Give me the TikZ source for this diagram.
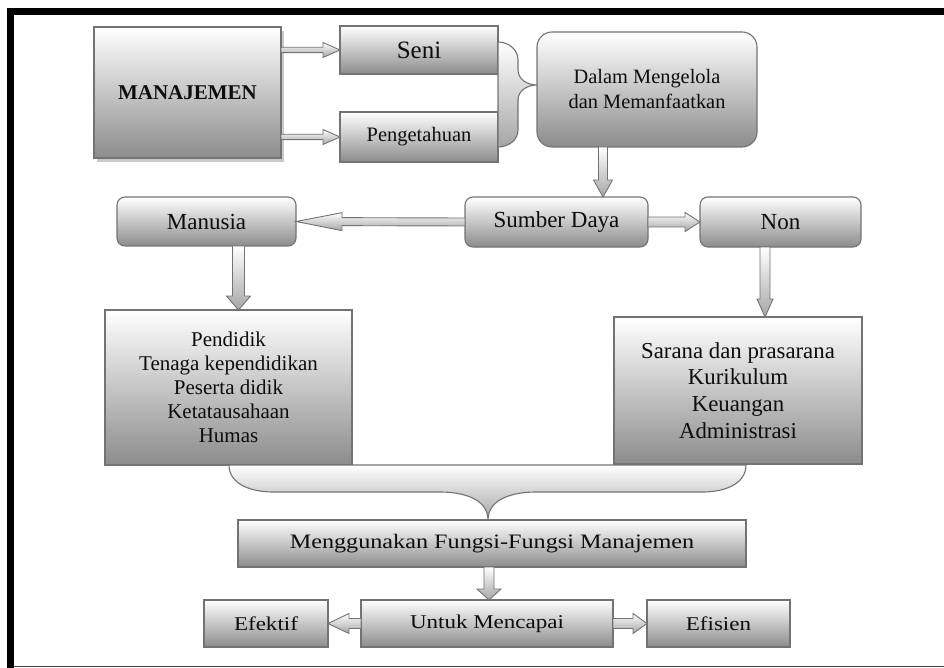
\documentclass[tikz,border=0pt]{standalone}
\usepackage{fontspec}
\setmainfont{Liberation Serif}
\newfontfamily\camb[FakeStretch=1.18]{Liberation Serif}
\usetikzlibrary{calc,shadows}
\newcommand\fsz[2]{\fontsize{#1}{#2}\selectfont}
% block arrow: start, end, shaft half width, head half width, head length
\newcommand\blockarr[5]{%
  \draw[arrowsty] let \p1=#1, \p2=#2, \n1={veclen(\x2-\x1,\y2-\y1)}, \n2={atan2(\y2-\y1,\x2-\x1)} in
    {[shift={(\p1)}, rotate=\n2]
     (0,#3) -- ({\n1-#5},#3) -- ({\n1-#5},#4) -- (\n1,0) -- ({\n1-#5},-#4) -- ({\n1-#5},-#3) -- (0,-#3) -- cycle};
}
\begin{document}
\begin{tikzpicture}[x=1pt,y=-1pt,
  box/.style={draw=black!55, line width=1.1pt, top color=white, bottom color=black!45,
    inner sep=0pt, outer sep=0pt, text=black!95, align=center},
  rbox/.style={box, rounded corners=8pt},
  arrowsty/.style={draw=black!55, line width=0.9pt, top color=white, bottom color=black!35},
  bracesty/.style={draw=black!55, line width=1.1pt, top color=white, bottom color=black!35}]
\useasboundingbox (0,0) rectangle (944,668);
% frame
\fill[black] (7,8) rectangle (14,668);
\fill[black] (7,8) rectangle (944,15.5);
\draw[black!75, line width=1.3pt] (14,666.5) -- (944,666.5);

% nodes
\node[box, minimum width=187pt, minimum height=131pt, font=\fsz{21}{24}\bfseries,
  drop shadow={shadow xshift=3pt, shadow yshift=-4pt, fill=black!35, opacity=0.6}]
  (man) at (187.5,92.5) {\raisebox{-7pt}{MANAJEMEN}};
\node[box, minimum width=158pt, minimum height=48pt, font=\fsz{25}{28}] (seni) at (419,50) {\raisebox{-2pt}{Seni}};
\node[box, minimum width=158pt, minimum height=50pt, font=\fsz{20.5}{24}] (peng) at (419,137) {Pengetahuan};
\node[box, rounded corners=15pt, minimum width=220pt, minimum height=115pt, font=\fsz{20.4}{25}]
  (dalam) at (647,89.5) {Dalam Mengelola\\dan Memanfaatkan};
\node[rbox, minimum width=183pt, minimum height=50pt, font=\fsz{23}{26}] (sd) at (556.5,222) {Sumber Daya};
\node[rbox, minimum width=161pt, minimum height=50pt, font=\fsz{23}{26}] (non) at (780.5,222) {Non};
\node[rbox, minimum width=179pt, minimum height=49pt, font=\fsz{23}{26}] (manu) at (206.5,221.5) {Manusia};
\node[box, minimum width=247pt, minimum height=155pt, font=\fsz{21}{24}] (left) at (228.5,387.5)
  {Pendidik\\Tenaga kependidikan\\Peserta didik\\Ketatausahaan\\Humas};
\node[box, minimum width=248pt, minimum height=147pt, font=\fsz{22.8}{26.7}] (right) at (738,390.5)
  {Sarana dan prasarana\\Kurikulum\\Keuangan\\Administrasi};
\node[box, minimum width=508pt, minimum height=47pt, font=\camb\fsz{20.5}{24}] (meng) at (492,543.5)
  {Menggunakan Fungsi-Fungsi Manajemen};
\node[box, minimum width=252pt, minimum height=47pt, font=\camb\fsz{19.5}{23}] (untuk) at (487,623.5)
  {Untuk Mencapai};
\node[box, minimum width=124pt, minimum height=47pt, font=\camb\fsz{19.5}{23}] (efek) at (266,623.5)
  {Efektif};
\node[box, minimum width=143pt, minimum height=47pt, font=\camb\fsz{19.5}{23}] (efis) at (718.5,623.5)
  {Efisien};

% arrows
\blockarr{(man.east|-seni.west)}{(seni.west)}{2.7}{7.5}{17}
\blockarr{(man.east|-peng.west)}{(peng.west)}{2.7}{7.5}{17}
\blockarr{([xshift=-44pt]dalam.south)}{([xshift=-44pt]dalam.south|-sd.north)}{4.5}{9.5}{17}
\blockarr{(sd.west)}{(manu.east)}{4}{9}{46}
\blockarr{(sd.east)}{(non.west)}{5}{9.5}{15}
\blockarr{([xshift=32pt]manu.south)}{([xshift=32pt]manu.south|-left.north)}{6}{12}{14}
\blockarr{([xshift=-15.5pt]non.south)}{([xshift=-15.5pt]non.south|-right.north)}{5}{8}{18}
\blockarr{([xshift=-3pt]meng.south)}{([xshift=-3pt]meng.south|-untuk.north)}{5}{12}{11}
\blockarr{(untuk.west)}{(efek.east)}{5}{10}{21}
\blockarr{(untuk.east)}{(efis.west)}{5}{10}{14}

% right brace
\draw[bracesty] ([yshift=8pt]seni.east) to[out=0,in=90] ++(20,18) -- ++(0,10)
  to[out=-90,in=180] ([yshift=4.5pt]dalam.west) to[out=180,in=90] ++(-19,15)
  -- ([xshift=20pt,yshift=7pt]peng.east) to[out=-90,in=0] ([yshift=-10pt]peng.east) -- cycle;
% bottom brace
\draw[bracesty] (229,465) to[out=-90,in=180] (273,492) -- (440,492)
  to[out=0,in=90] ([xshift=-4pt]meng.north) to[out=90,in=180] (536,492) -- (703,492)
  to[out=0,in=-90] (746,465) -- cycle;
\end{tikzpicture}
\end{document}
